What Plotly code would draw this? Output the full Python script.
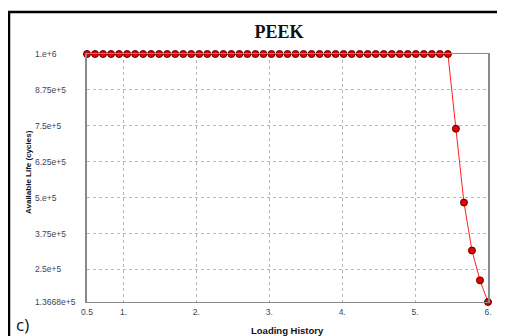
import plotly.graph_objects as go

# Data
loading_history = [0.5, 0.61, 0.72, 0.83, 0.94, 1.05, 1.16, 1.27, 1.38, 1.49,
                   1.6, 1.71, 1.82, 1.93, 2.04, 2.15, 2.26, 2.37, 2.48, 2.59,
                   2.7, 2.81, 2.92, 3.03, 3.14, 3.25, 3.36, 3.47, 3.58, 3.69,
                   3.8, 3.91, 4.02, 4.13, 4.24, 4.35, 4.46, 4.57, 4.68, 4.79,
                   4.9, 5.01, 5.12, 5.23, 5.34, 5.45, 5.56, 5.67, 5.78, 5.89, 6.0]
available_life = [1e6] * 46 + [7.4e5, 4.83e5, 3.16e5, 2.12e5, 1.3668e5]

x_tick_vals = [0.5, 1, 2, 3, 4, 5, 6]
x_tick_text = ["0.5", "1.", "2.", "3.", "4.", "5.", "6."]
y_tick_vals = [1.3668e5, 2.5e5, 3.75e5, 5e5, 6.25e5, 7.5e5, 8.75e5, 1e6]
y_tick_text = ["1.3668e+5", "2.5e+5", "3.75e+5", "5.e+5", "6.25e+5", "7.5e+5", "8.75e+5", "1.e+6"]

# page body has an 8px margin, so the figure is offset by 8px in the window
OFF = 8
W, H = 505 - OFF, 336 - OFF
ML, MR, MT, MB = 87 - OFF, 17, 54 - OFF, 34
PW, PH = W - ML - MR, H - MT - MB

def px_x(p):  # window pixel -> paper fraction
    return (p - OFF - ML) / PW

def px_y(p):
    return (H - MB - (p - OFF)) / PH

tick_font = dict(family="Liberation Sans, Arial", size=8.5, color="#3a4560")

fig = go.Figure()
fig.add_trace(go.Scatter(
    x=loading_history, y=available_life, mode="lines+markers",
    line=dict(color="#ff2020", width=1),
    marker=dict(symbol="circle", size=7, color="#e60000",
                line=dict(color="#5a0000", width=1)),
    cliponaxis=False, showlegend=False,
))

annotations = []
for v, t in zip(y_tick_vals, y_tick_text):
    annotations.append(dict(x=px_x(33), xref="paper", y=v, yref="y", text=t,
                            showarrow=False, xanchor="left", yanchor="middle",
                            font=tick_font))
annotations += [
    dict(x=px_x(28), y=px_y(172), xref="paper", yref="paper",
         text="<b>Available Life (cycles)</b>", textangle=-90, showarrow=False,
         xanchor="center", yanchor="middle",
         font=dict(family="Liberation Sans, Arial", size=8, color="#111")),
    dict(x=px_x(287), y=px_y(330), xref="paper", yref="paper",
         text="<b>Loading History</b>", showarrow=False,
         xanchor="center", yanchor="middle",
         font=dict(family="Liberation Sans, Arial", size=9.5, color="#111")),
    dict(x=px_x(22), y=px_y(324), xref="paper", yref="paper",
         text="c)", showarrow=False, xanchor="center", yanchor="middle",
         font=dict(family="Open Sans, Liberation Sans", size=17, color="#111")),
]

fig.update_layout(
    width=W, height=H,
    margin=dict(l=ML, r=MR, t=MT, b=MB),
    paper_bgcolor="white", plot_bgcolor="white",
    title=dict(text="<b>PEEK</b>", x=(279 - OFF) / W, xanchor="center",
               y=1 - (32 - OFF) / H, yanchor="middle",
               font=dict(family="Liberation Serif, Times New Roman", size=18, color="#111")),
    xaxis=dict(range=[0.5, 6.0], tickvals=x_tick_vals, ticktext=x_tick_text,
               tickfont=tick_font, showgrid=True, gridcolor="#b8b8b8", griddash="dot",
               gridwidth=1, zeroline=False, showline=True, linecolor="#8a8a8a",
               linewidth=1, mirror=True, ticks="", ticklabelstandoff=2),
    yaxis=dict(range=[1.3668e5, 1e6], tickvals=y_tick_vals, showticklabels=False,
               showgrid=True, gridcolor="#b8b8b8", griddash="dot", gridwidth=1,
               zeroline=False, showline=True, linecolor="#8a8a8a", linewidth=2,
               mirror=True, ticks=""),
    annotations=annotations,
    shapes=[dict(type="rect", xref="paper", yref="paper",
                 x0=px_x(9), x1=px_x(515), y0=px_y(350), y1=px_y(12),
                 line=dict(color="black", width=2.5), layer="above")],
)

fig.write_html("out.html")
